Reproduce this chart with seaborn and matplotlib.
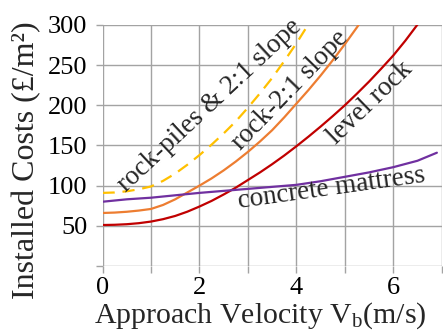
import matplotlib
matplotlib.use("Agg")
import matplotlib.pyplot as plt
import seaborn as sns

# ---- data ----
velocity = [0, 0.25, 0.5, 0.75, 1, 1.25, 1.5, 1.75, 2, 2.25, 2.5, 2.75, 3, 3.25,
            3.5, 3.75, 4, 4.25, 4.5, 4.75, 5, 5.25, 5.5, 5.75, 6, 6.25, 6.5, 6.75]
level_rock = [51, 51.3, 52, 53.3, 55.3, 58.3, 62.3, 67.6, 74, 81, 89, 97.5, 107,
              116.5, 126.7, 137.5, 149, 161, 173.5, 186.5, 200, 214.5, 229.5,
              245.5, 262, 280.5, 300.5, 322]

velocity_slope = [0, 0.25, 0.5, 0.75, 1, 1.25, 1.5, 1.75, 2, 2.25, 2.5, 2.75, 3,
                  3.25, 3.5, 3.75, 4, 4.25, 4.5, 4.75, 5, 5.25, 5.5]
rock_slope = [66, 66.5, 67.5, 69, 71, 76, 83, 91.5, 100, 109, 119, 130, 142, 155,
              169, 185, 202, 219, 237, 256, 276, 297, 319]

velocity_piles = [0, 0.25, 0.5, 0.75, 1, 1.25, 1.5, 1.75, 2, 2.25, 2.5, 2.75, 3,
                  3.25, 3.5, 3.75, 4, 4.25, 4.5]
rock_piles = [91, 91.5, 93, 95.5, 99, 106, 115, 126, 138, 151, 165, 180, 197, 215,
              234, 255, 277, 301, 327]

velocity_mattress = [0, 0.5, 1, 1.5, 2, 2.5, 3, 3.5, 4, 4.5, 5, 5.5, 6, 6.5, 6.9]
concrete_mattress = [80, 83, 85, 88, 91, 93.5, 96, 98.5, 101, 105.5, 111, 116.5,
                     123, 131, 141]

x_ticks = [0, 1, 2, 3, 4, 5, 6, 7]
x_tick_labels = ["0", "", "2", "", "4", "", "6", ""]
y_ticks = [0, 50, 100, 150, 200, 250, 300]
y_tick_labels = ["", "50", "100", "150", "200", "250", "300"]

sns.set_theme(style="white")
plt.rcParams["font.family"] = ["Liberation Serif", "DejaVu Serif"]
plt.rcParams["mathtext.fontset"] = "custom"
plt.rcParams["mathtext.rm"] = "Liberation Serif"
plt.rcParams["mathtext.it"] = "Liberation Serif:italic"

fig = plt.figure(figsize=(4.43, 3.33), dpi=100)
ax = fig.add_axes([0.2314, 0.2012, 0.9971 - 0.2314, 0.925 - 0.2012])

grid_c = "#a3a3a3"
ax.set_xlim(0, 7)
ax.set_ylim(0, 300)
ax.set_xticks(x_ticks)
ax.set_xticklabels(x_tick_labels)
ax.set_yticks(y_ticks)
ax.set_yticklabels(y_tick_labels)
ax.grid(True, color=grid_c, linewidth=1.0)
for s in ax.spines.values():
    s.set_visible(False)
ax.tick_params(axis="both", which="major", length=5, width=1.0, color=grid_c,
               labelsize=19, labelcolor="black", direction="out",
               bottom=True, left=True)
ax.tick_params(axis="y", pad=6)
ax.tick_params(axis="x", pad=3)

sns.lineplot(x=velocity, y=level_rock, ax=ax, color="#c00000", linewidth=1.6)
sns.lineplot(x=velocity_slope, y=rock_slope, ax=ax, color="#ed7d31", linewidth=1.6)
sns.lineplot(x=velocity_piles, y=rock_piles, ax=ax, color="#ffc000", linewidth=1.6,
             linestyle=(0, (5.5, 3.5)))
sns.lineplot(x=velocity_mattress, y=concrete_mattress, ax=ax, color="#7030a0",
             linewidth=1.6)

fs = 19.5
ax.text(2.22, 200, "rock-piles & 2:1 slope", rotation=43, fontsize=fs,
        ha="center", va="center", rotation_mode="anchor")
ax.text(3.87, 219, "rock-2:1 slope", rotation=46, fontsize=fs,
        ha="center", va="center", rotation_mode="anchor")
ax.text(5.53, 203, "level rock", rotation=44, fontsize=fs,
        ha="center", va="center", rotation_mode="anchor")
ax.text(4.73, 97, "concrete mattress", rotation=8, fontsize=fs,
        ha="center", va="center", rotation_mode="anchor")

ax.set_xlabel(r"Approach Velocity V$_{\mathregular{b}}$(m/s)", fontsize=21.5)
ax.set_ylabel("Installed Costs (£/m²)", fontsize=23)
ax.xaxis.set_label_coords(0.465, -0.142)
ax.yaxis.set_label_coords(-0.181, 0.44)

fig.savefig("out.png", dpi=100)
